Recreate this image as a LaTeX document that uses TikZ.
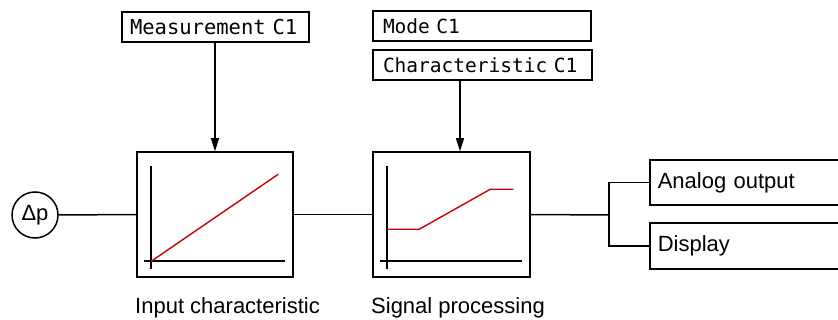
\documentclass[tikz,border=0pt]{standalone}
\usepackage{fontspec}
\setmainfont{Liberation Sans}
\newfontfamily\pixfont{DejaVu Sans Mono}
\usetikzlibrary{arrows.meta,calc}
\definecolor{curvered}{RGB}{204,0,0}
\tikzset{
  line/.style={line width=1.5pt,draw=black},
  lcdbox/.style={draw,line width=1.5pt,rectangle,inner xsep=8pt,inner ysep=0pt,
    minimum height=30pt,align=left,font=\pixfont\fontsize{19.5}{20}\selectfont},
  blockbox/.style={draw,line width=1.5pt,rectangle,inner sep=0pt},
  outbox/.style={draw,line width=1.5pt,rectangle,inner xsep=8pt,inner ysep=0pt,
    text width=185pt,align=left,anchor=west,font=\fontsize{22}{24}\selectfont},
  axis/.style={line width=2.4pt,draw=black},
  curve/.style={line width=1.4pt,draw=curvered},
  caption/.style={font=\fontsize{22}{24}\selectfont,inner sep=0pt,anchor=base west},
  sig/.style={-{Triangle[length=13pt,width=8pt]},line width=1.5pt}
}
\begin{document}
\begin{tikzpicture}[x=1pt,y=-1pt]
\useasboundingbox (0,0) rectangle (838,320);
\clip (0,0) rectangle (838,320);
% top parameter boxes
\node[lcdbox,text width=171pt,font=\pixfont\fontsize{20.5}{21}\selectfont] (meas) at (215.5,27) {Measurement C1};
\node[lcdbox,text width=202pt,inner xsep=8pt] (mode) at (482,26) {\hspace*{2pt}Mode C1};
\node[lcdbox,text width=203pt] (char) at (482.5,65) {\hspace*{2pt}Characteristic C1};
% input
\node[draw,circle,line width=1.5pt,minimum size=46pt,inner sep=0pt,font=\fontsize{22}{24}\selectfont] (dp) at (35,215) {Δp};
% blocks
\node[blockbox,minimum width=156pt,minimum height=125pt] (b1) at (215,214.5) {};
\node[blockbox,minimum width=157pt,minimum height=125pt] (b2) at (451.5,214.5) {};
% outputs
\node[outbox,minimum height=45pt] (ao) at (649,182.5) {Analog output};
\node[outbox,minimum height=46pt] (disp) at (649,246) {Display};
% captions
\node[caption] (c1) at (135,314) {Input characteristic};
\node[caption] (c2) at (371,314) {Signal processing};
% graphs
\begin{scope}[shift={(b1.north west)}]
  \draw[axis] (15,15) -- (15,118);
  \draw[axis] (8,110) -- (149,110);
  \draw[curve] (15,110) -- (142,23);
\end{scope}
\begin{scope}[shift={(b2.north west)}]
  \draw[axis] (15,15) -- (15,118);
  \draw[axis] (8,110) -- (150,110);
  \draw[curve] (15,78) -- (47,78) -- (118,38) -- (141,38);
\end{scope}
% connectors
\coordinate (ax) at (460,0);
\coordinate (sp) at (609,215);
\draw[line] (dp.east) -- (b1.west);
\draw[line] (b1.east) -- (b2.west);
\draw[sig] (b1.north |- meas.south) -- (b1.north);
\draw[sig] (char.south -| ax) -- (b2.north -| ax);
\draw[line] (b2.east) -- (sp);
\draw[line] (ao.west) -| (sp) |- (disp.west);
\end{tikzpicture}
\end{document}
